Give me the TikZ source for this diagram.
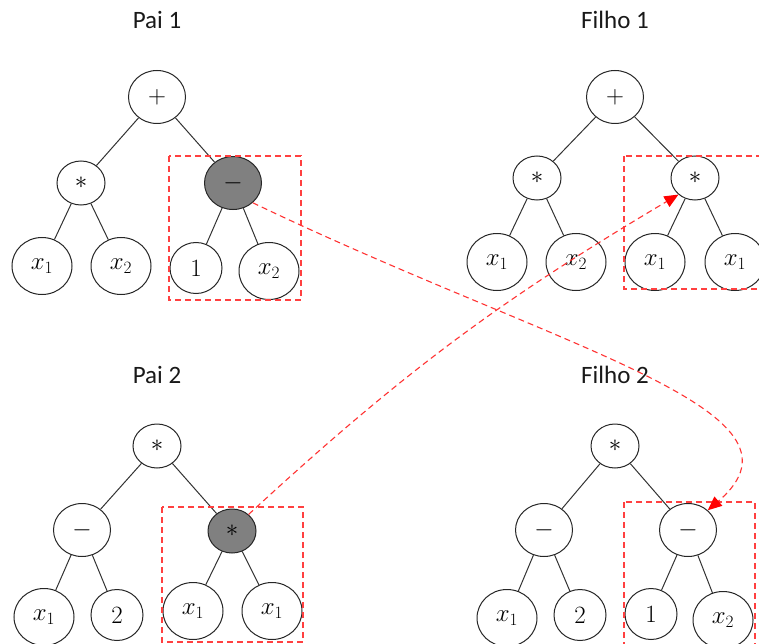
\documentclass[tikz,border=0pt]{standalone}
\usepackage{fontspec}
\setsansfont{Carlito}
\usetikzlibrary{shapes.geometric,arrows.meta}

\tikzset{
  tnode/.style={ellipse,draw=black!85,line width=1pt,inner sep=0pt,
    font=\fontsize{23}{27}\selectfont},
  bignode/.style={tnode,minimum width=57pt,minimum height=53pt},
  midnode/.style={tnode,minimum width=48pt,minimum height=44pt},
  leafnode/.style={tnode,minimum width=60pt,minimum height=57pt},
  numnode/.style={tnode,minimum width=52pt,minimum height=51pt},
  picked/.style={fill=black!50},
  edge/.style={draw=black!80,line width=1pt},
  title/.style={font=\sffamily\fontsize{25}{30}\selectfont,text=black!90},
  cutbox/.style={draw=red!75,dash pattern=on 6pt off 4pt,line width=1.1pt},
  swap/.style={draw=red!80,dash pattern=on 6pt off 4pt,line width=1.1pt,
    -{Triangle[length=14pt,width=12pt,fill=red,color=red]}},
}

\begin{document}
\begin{tikzpicture}[x=1pt,y=-1pt]
\useasboundingbox (0,0) rectangle (759,644);

% ---------- Pai 1 ----------
\node[title] (t1) at (157,20) {Pai 1};
\node[bignode]  (a)   at (157,97)  {$+$};
\node[midnode]  (a1)  at (81,183)  {$*$};
\node[bignode,picked] (a2) at (233,183) {$-$};
\node[leafnode] (a11) at (42,266)  {$x_1$};
\node[leafnode] (a12) at (121,266) {$x_2$};
\node[numnode]  (a21) at (196,268) {$1$};
\node[leafnode] (a22) at (269,271) {$x_2$};
\draw[edge] (a) -- (a1);  \draw[edge] (a) -- (a2);
\draw[edge] (a1) -- (a11); \draw[edge] (a1) -- (a12);
\draw[edge] (a2) -- (a21); \draw[edge] (a2) -- (a22);
\draw[cutbox] (169,156) rectangle (301,300);

% ---------- Filho 1 ----------
\node[title] (t2) at (615,20) {Filho 1};
\node[bignode]  (b)   at (615,97)  {$+$};
\node[midnode]  (b1)  at (537,178) {$*$};
\node[midnode]  (b2)  at (695,178) {$*$};
\node[leafnode] (b11) at (497,262) {$x_1$};
\node[leafnode] (b12) at (576,262) {$x_2$};
\node[leafnode] (b21) at (655,262) {$x_1$};
\node[leafnode] (b22) at (735,262) {$x_1$};
\draw[edge] (b) -- (b1);  \draw[edge] (b) -- (b2);
\draw[edge] (b1) -- (b11); \draw[edge] (b1) -- (b12);
\draw[edge] (b2) -- (b21); \draw[edge] (b2) -- (b22);
\draw[cutbox] (624,156) rectangle (790,289);

% ---------- Pai 2 ----------
\node[title] (t3) at (157,375) {Pai 2};
\node[midnode]  (c)   at (157,446) {$*$};
\node[bignode]  (c1)  at (82,530)  {$-$};
\node[midnode,picked] (c2) at (232,531) {$*$};
\node[leafnode] (c11) at (44,617)  {$x_1$};
\node[numnode]  (c12) at (117,615) {$2$};
\node[leafnode] (c21) at (193,611) {$x_1$};
\node[leafnode] (c22) at (272,611) {$x_1$};
\draw[edge] (c) -- (c1);  \draw[edge] (c) -- (c2);
\draw[edge] (c1) -- (c11); \draw[edge] (c1) -- (c12);
\draw[edge] (c2) -- (c21); \draw[edge] (c2) -- (c22);
\draw[cutbox] (162,507) rectangle (303,642);

% ---------- Filho 2 ----------
\node[title] (t4) at (615,375) {Filho 2};
\node[midnode]  (d)   at (615,446) {$*$};
\node[bignode]  (d1)  at (544,530) {$-$};
\node[bignode]  (d2)  at (688,530) {$-$};
\node[leafnode] (d11) at (507,618) {$x_1$};
\node[numnode]  (d12) at (580,615) {$2$};
\node[numnode]  (d21) at (651,614) {$1$};
\node[leafnode] (d22) at (723,620) {$x_2$};
\draw[edge] (d) -- (d1);  \draw[edge] (d) -- (d2);
\draw[edge] (d1) -- (d11); \draw[edge] (d1) -- (d12);
\draw[edge] (d2) -- (d21); \draw[edge] (d2) -- (d22);
\draw[cutbox] (624,502) rectangle (755,670);

% ---------- exchanged subtrees ----------
\draw[swap] (a2.-45) .. controls (560,350) and (825,410) .. (d2.45);
\draw[swap] (c2.45) to[bend left=6] (b2.225);
\end{tikzpicture}
\end{document}
